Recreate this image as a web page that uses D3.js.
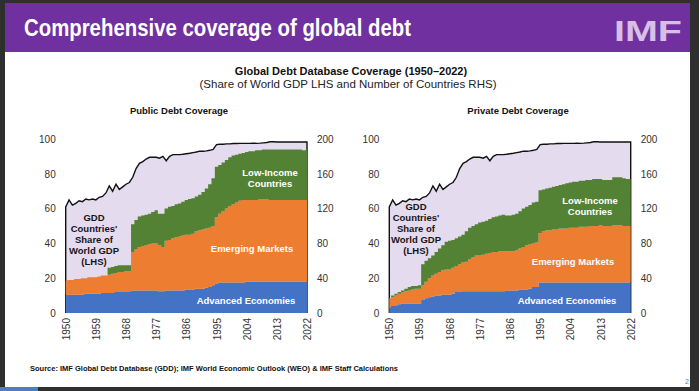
<!DOCTYPE html>
<html>
<head>
<meta charset="utf-8">
<script src="https://cdn.jsdelivr.net/npm/d3@7/dist/d3.min.js"></script>
<style>
  body { margin: 0; background: #2f2f2f; }
  svg { display: block; font-family: "Liberation Sans", Arial, sans-serif; }
</style>
</head>
<body>
<svg id="slide" width="699" height="391"></svg>
<script>
const years = d3.range(1950, 2023)
const xTicks = [1950, 1959, 1968, 1977, 1986, 1995, 2004, 2013, 2022]
const lhsTicks = [0, 20, 40, 60, 80, 100]
const rhsTicks = [0, 40, 80, 120, 160, 200]

// share of world GDP covered by GDD countries (LHS, %)
const gdpShare = [61, 65, 62, 63, 64.5, 64, 65.5, 65, 65.5, 65, 66.5, 67, 69, 73, 70, 74, 71, 72.5, 74, 75,
  78, 83, 86, 87, 88.5, 89.5, 89.5, 89.5, 89, 90, 87.5, 90, 91, 91, 91, 91.2, 91.5, 91.8, 92.2, 92.5,
  93, 93, 93.2, 93.5, 94, 96.8, 97, 97, 97.2, 97.2, 97.4, 97.4, 97.5, 97.5, 97.5, 97.5, 97.6, 97.5, 97.6, 97.8,
  98, 98.4, 98.4, 98.3, 98.3, 98.3, 98.3, 98.3, 98.3, 98.3, 98.3, 98.3, 98.3]

// number of countries (RHS) - public debt
const pubAE = [21, 21, 21, 21, 21, 21, 22, 22, 22, 22, 22, 23, 23, 23, 23, 24, 24, 24, 24, 24,
  26, 26, 26, 26, 26, 26, 26, 26, 25, 25, 26, 26, 26, 26, 26, 26, 27, 27, 27, 28,
  28, 28, 29, 30, 32, 34, 35, 35, 35, 35, 35, 35, 35, 35, 36, 36, 36, 36, 36, 36,
  36, 36, 36, 36, 36, 36, 36, 36, 36, 36, 36, 36, 36]
const pubEM = [16, 17, 17, 18, 18, 19, 18, 19, 19, 19, 20, 20, 20, 21, 22, 22, 23, 23, 24, 24,
  44, 47, 50, 51, 52, 53, 54, 54, 53, 51, 57, 58, 60, 61, 62, 63, 63, 63, 64, 66,
  67, 68, 68, 68, 68, 76, 79, 82, 85, 88, 90, 92, 94, 95, 94, 94, 94, 94, 95, 95,
  95, 94, 94, 94, 94, 94, 94, 94, 94, 94, 94, 94, 94]
const pubLIC = [0, 0, 0, 0, 0, 0, 0, 0, 0, 0, 0, 0, 0, 8, 8, 8, 8, 8, 7, 7,
  32, 34, 35, 35, 35, 35, 36, 38, 36, 38, 37, 38, 37, 38, 38, 39, 40, 41, 41, 40,
  41, 43, 46, 50, 55, 58, 56, 56, 56, 56, 56, 55, 54, 54, 55, 56, 56, 57, 56, 57,
  57, 58, 58, 58, 58, 58, 58, 58, 58, 58, 58, 57, 57]

// number of countries (RHS) - private debt
const privAE = [6, 8, 9, 10, 11, 11, 11, 11, 11, 11, 15, 17, 18, 19, 20, 20, 21, 21, 21, 22,
  24, 24, 25, 25, 25, 25, 25, 25, 25, 25, 25, 25, 25, 25, 25, 26, 26, 26, 26, 27,
  27, 27, 28, 30, 30, 35, 35, 35, 35, 35, 35, 35, 35, 35, 35, 35, 35, 35, 35, 35,
  35, 35, 35, 35, 35, 35, 35, 35, 35, 35, 35, 35, 35]
const privEM = [11, 10, 11, 12, 13, 14, 15, 16, 17, 17, 17, 19, 22, 24, 25, 27, 28, 29, 29, 30,
  30, 32, 33, 34, 37, 39, 41, 41, 42, 43, 44, 45, 45, 46, 46, 45, 45, 45, 46, 47,
  49, 51, 51, 50, 51, 57, 59, 60, 60, 61, 61, 62, 62, 62, 63, 63, 63, 64, 64, 64,
  65, 65, 65, 66, 65, 65, 65, 66, 66, 66, 65, 65, 65]
const privLIC = [0, 2, 2, 2, 2, 3, 4, 4, 3, 4, 24, 24, 23, 23, 25, 27, 29, 32, 33, 32,
  32, 32, 32, 35, 36, 36, 36, 38, 38, 38, 39, 40, 41, 41, 42, 41, 41, 42, 42, 43,
  44, 44, 45, 47, 47, 49, 48, 48, 49, 49, 50, 50, 51, 52, 52, 53, 53, 53, 53, 54,
  53, 54, 54, 53, 53, 53, 53, 55, 55, 55, 55, 54, 54]

const groups = ['ae', 'em', 'lic']
const colors = {ae: '#4472c4', em: '#ed7d31', lic: '#548235'}

const svg = d3.select('#slide')

// slide frame
svg.append('rect').attr('x', 5).attr('y', 3).attr('width', 685).attr('height', 384).attr('fill', 'white')
svg.append('rect').attr('x', 5).attr('y', 3).attr('width', 685).attr('height', 49).attr('fill', '#7030a0')
svg.append('rect').attr('x', 0).attr('y', 387).attr('width', 38).attr('height', 4).attr('fill', '#4a7fc0')

svg.append('text')
  .attr('x', 24).attr('y', 36)
  .attr('font-family', '"Liberation Sans Narrow", "Liberation Sans", Arial, sans-serif')
  .attr('font-size', 24).attr('font-weight', 'bold').attr('fill', 'white')
  .attr('textLength', 387).attr('lengthAdjust', 'spacingAndGlyphs')
  .text('Comprehensive coverage of global debt')
svg.append('text')
  .attr('x', 614).attr('y', 41)
  .attr('font-size', 30).attr('font-weight', 'bold').attr('fill', '#d7bfe6')
  .attr('textLength', 68).attr('lengthAdjust', 'spacingAndGlyphs')
  .text('IMF')

svg.append('text')
  .attr('x', 351).attr('y', 75).attr('text-anchor', 'middle')
  .attr('font-size', 11).attr('font-weight', 'bold').attr('fill', '#111')
  .text('Global Debt Database Coverage (1950–2022)')
svg.append('text')
  .attr('x', 348).attr('y', 88).attr('text-anchor', 'middle')
  .attr('font-size', 11).attr('fill', '#222')
  .attr('textLength', 297).attr('lengthAdjust', 'spacingAndGlyphs')
  .text('(Share of World GDP LHS and Number of Countries RHS)')

svg.append('text')
  .attr('x', 30).attr('y', 371)
  .attr('font-size', 7.5).attr('font-weight', 'bold').attr('fill', '#111')
  .attr('textLength', 368).attr('lengthAdjust', 'spacingAndGlyphs')
  .text('Source: IMF Global Debt Database (GDD); IMF World Economic Outlook (WEO) & IMF Staff Calculations')
svg.append('text')
  .attr('x', 685).attr('y', 384)
  .attr('font-size', 7).attr('fill', '#4a7fc0')
  .text('2')

function panel(cfg) {
  const x = d3.scaleLinear().domain([1950, 2022]).range(cfg.xr)
  const yL = d3.scaleLinear().domain([0, 100]).range([313, 139])
  const yR = d3.scaleLinear().domain([0, 200]).range([313, 139])
  const g = svg.append('g')

  g.append('text')
    .attr('x', cfg.titleX).attr('y', 114).attr('text-anchor', 'middle')
    .attr('font-size', 9.5).attr('font-weight', 'bold').attr('fill', '#111')
    .text(cfg.title)

  const table = years.map((yr, i) => ({year: yr, ae: cfg.ae[i], em: cfg.em[i], lic: cfg.lic[i], gdp: gdpShare[i]}))

  // GDP share area (LHS)
  g.append('path')
    .datum(table)
    .attr('d', d3.area().x(d => x(d.year)).y0(yL(0)).y1(d => yL(d.gdp)))
    .attr('fill', '#e5dbee')

  const outline = [{year: 1950, gdp: 0}, ...table, {year: 2022, gdp: 0}]
  g.append('path')
    .datum(outline)
    .attr('d', d3.line().x(d => x(d.year)).y(d => yL(d.gdp)))
    .attr('fill', 'none').attr('stroke', '#111').attr('stroke-width', 1.4)

  // country counts (RHS)
  const series = d3.stack().keys(groups)(table)
  g.selectAll('.layer')
    .data(series)
    .join('path')
    .attr('class', 'layer')
    .attr('fill', d => colors[d.key])
    .attr('d', d3.area().curve(d3.curveStep)
      .x(d => x(d.data.year)).y0(d => yR(d[0])).y1(d => yR(d[1])))

  const left = g.append('g')
    .attr('transform', `translate(${cfg.xr[0] - 10},0)`)
    .call(d3.axisLeft(yL).tickValues(lhsTicks).tickSize(0).tickPadding(0))
  const right = g.append('g')
    .attr('transform', `translate(${cfg.xr[1] + 10},0)`)
    .call(d3.axisRight(yR).tickValues(rhsTicks).tickSize(0).tickPadding(0))
  const bottom = g.append('g')
    .attr('transform', 'translate(0,318)')
    .call(d3.axisBottom(x).tickValues(xTicks).tickFormat(d3.format('d')).tickSize(0).tickPadding(0))
  bottom.selectAll('text')
    .attr('transform', 'rotate(-90)')
    .attr('text-anchor', 'end')
    .attr('x', 0).attr('y', 0).attr('dy', '0.35em')
  for (const ax of [left, right, bottom]) {
    ax.select('.domain').remove()
    ax.selectAll('text').attr('font-size', 10).attr('fill', '#333').attr('font-family', '"Liberation Sans", Arial, sans-serif')
  }

  const label = (lines, cx, cy, fill) => {
    const t = g.append('text')
      .attr('text-anchor', 'middle')
      .attr('font-size', 9.5).attr('font-weight', 'bold').attr('fill', fill)
    lines.forEach((s, i) => t.append('tspan').attr('x', cx).attr('y', cy + i * 10.9).text(s))
  }
  label(['GDD', "Countries'", 'Share of', 'World GDP', '(LHS)'], cfg.gdd[0], cfg.gdd[1], '#151515')
  label(['Low-Income', 'Countries'], cfg.lic_l[0], cfg.lic_l[1], 'white')
  label(['Emerging Markets'], cfg.em_l[0], cfg.em_l[1], 'white')
  label(['Advanced Economies'], cfg.ae_l[0], cfg.ae_l[1], 'white')
}

panel({title: 'Public Debt Coverage', titleX: 179, xr: [65.7, 307],
  ae: pubAE, em: pubEM, lic: pubLIC,
  gdd: [94, 221], lic_l: [270, 176], em_l: [252, 252], ae_l: [246, 304]})
panel({title: 'Private Debt Coverage', titleX: 518, xr: [389.3, 630.7],
  ae: privAE, em: privEM, lic: privLIC,
  gdd: [416, 210], lic_l: [590, 204], em_l: [573, 265], ae_l: [567, 304]})
</script>
</body>
</html>
